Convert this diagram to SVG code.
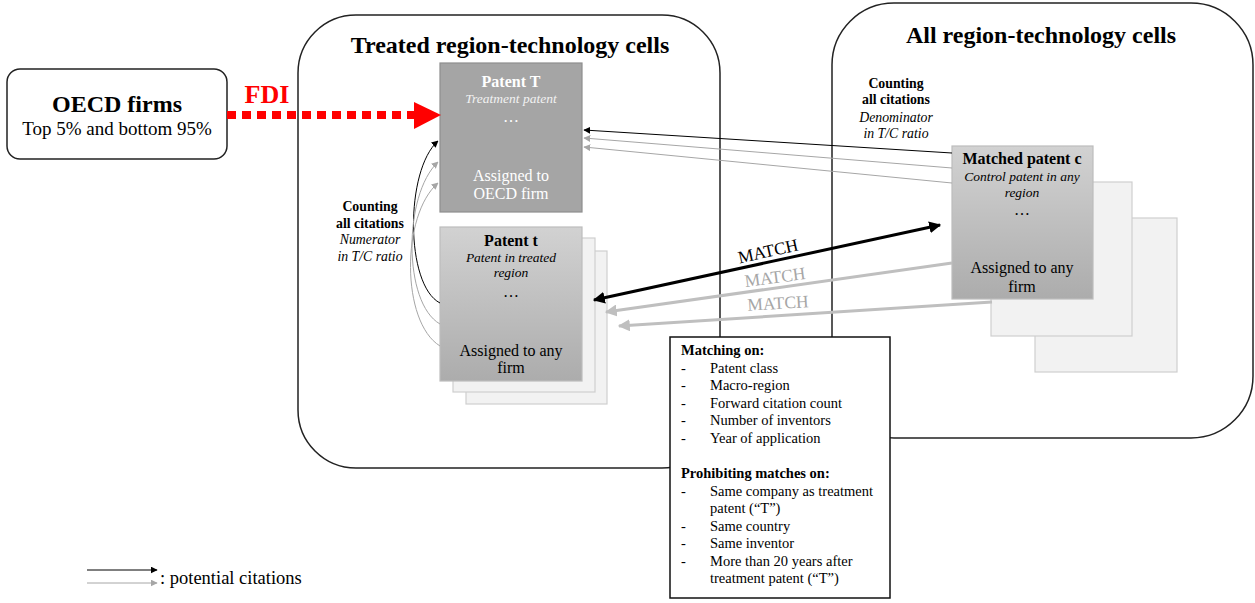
<svg xmlns="http://www.w3.org/2000/svg" width="1255" height="603" viewBox="0 0 1255 603" font-family="'Liberation Serif', 'Times New Roman', serif">
<defs>
<linearGradient id="gradGray" x1="0" y1="0" x2="0" y2="1">
<stop offset="0" stop-color="#d2d2d2"/>
<stop offset="1" stop-color="#acacac"/>
</linearGradient>
<marker id="ahBlack" viewBox="0 0 10 10" refX="9" refY="5" markerWidth="7" markerHeight="7" markerUnits="userSpaceOnUse" orient="auto"><path d="M0,0 L10,5 L0,10 z" fill="#000"/></marker>
<marker id="ahGray" viewBox="0 0 10 10" refX="9" refY="5" markerWidth="7" markerHeight="7" markerUnits="userSpaceOnUse" orient="auto"><path d="M0,0 L10,5 L0,10 z" fill="#a6a6a6"/></marker>
<marker id="ahMatchB" viewBox="0 0 10 10" refX="9" refY="5" markerWidth="4" markerHeight="4" orient="auto-start-reverse"><path d="M0,0 L10,5 L0,10 z" fill="#000"/></marker>
<marker id="ahMatchG" viewBox="0 0 10 10" refX="9" refY="5" markerWidth="4" markerHeight="4" orient="auto"><path d="M0,0 L10,5 L0,10 z" fill="#bfbfbf"/></marker>
</defs>
<style>
svg text { font-family: 'Liberation Serif', 'Times New Roman', serif; }
.container { fill: #fff; stroke: #222; stroke-width: 1.5; }
.title { font-size: 24px; font-weight: bold; text-anchor: middle; fill: #000; }
.bt { font-size: 16px; font-weight: bold; text-anchor: middle; }
.it { font-size: 13.5px; font-style: italic; text-anchor: middle; }
.nt { font-size: 16px; text-anchor: middle; }
.back { fill: #f2f2f2; stroke: #cfcfcf; stroke-width: 1.2; }
.lbl { font-size: 13.8px; text-anchor: middle; fill: #000; }
.mb { font-size: 14.5px; fill: #000; }
.cb { fill: none; stroke: #000; stroke-width: 1; }
.cg { fill: none; stroke: #a6a6a6; stroke-width: 1; }
.match { font-size: 17.5px; text-anchor: middle; }
</style>
<rect width="1255" height="603" fill="#fff"/>

<g id="treated-container">
<rect class="container" x="298" y="15" width="422" height="453" rx="58" ry="58"/>
<text class="title" x="510" y="53">Treated region-technology cells</text>
</g>
<g id="all-container">
<rect class="container" x="832" y="3" width="421" height="435" rx="62" ry="62"/>
<text class="title" x="1041" y="43">All region-technology cells</text>
</g>

<g id="oecd-firms">
<rect x="7" y="69" width="220" height="90" rx="13" ry="13" fill="#fff" stroke="#222" stroke-width="1.5"/>
<text x="117" y="112" font-size="24" font-weight="bold" text-anchor="middle">OECD firms</text>
<text x="117" y="135" font-size="19" text-anchor="middle">Top 5% and bottom 95%</text>
</g>

<g id="patent-T">
<rect x="440" y="63" width="142" height="149" fill="#a5a5a5" stroke="#8e8e8e" stroke-width="1.2"/>
<text class="bt" x="511" y="87" fill="#fff">Patent T</text>
<text class="it" x="511" y="103" fill="#f2f2f2">Treatment patent</text>
<text class="nt" x="511" y="122" fill="#fff">…</text>
<text class="nt" x="511" y="181" fill="#fff">Assigned to</text>
<text class="nt" x="511" y="199" fill="#fff">OECD firm</text>
</g>

<g id="patent-t">
<rect class="back" x="466" y="251" width="141" height="153"/>
<rect class="back" x="453" y="238" width="142" height="154"/>
<rect x="440" y="227" width="142" height="154" fill="url(#gradGray)" stroke="#bdbdbd" stroke-width="1.2"/>
<text class="bt" x="511" y="246">Patent t</text>
<text class="it" x="511" y="262">Patent in treated</text>
<text class="it" x="511" y="277">region</text>
<text class="nt" x="511" y="297">…</text>
<text class="nt" x="511" y="356">Assigned to any</text>
<text class="nt" x="511" y="373">firm</text>
</g>

<g id="matched-c">
<rect class="back" x="1035" y="218" width="142" height="154"/>
<rect class="back" x="991" y="182" width="141" height="154"/>
<rect x="952" y="146" width="141" height="153" fill="url(#gradGray)" stroke="#bdbdbd" stroke-width="1.2"/>
<text class="bt" x="1022" y="164">Matched patent c</text>
<text class="it" x="1022" y="181">Control patent in any</text>
<text class="it" x="1022" y="197">region</text>
<text class="nt" x="1022" y="215">…</text>
<text class="nt" x="1022" y="273">Assigned to any</text>
<text class="nt" x="1022" y="292">firm</text>
</g>

<g id="counting-left">
<text class="lbl" x="370" y="211" font-weight="bold">Counting</text>
<text class="lbl" x="370" y="228" font-weight="bold">all citations</text>
<text class="lbl" x="370" y="244" font-style="italic">Numerator</text>
<text class="lbl" x="370" y="261" font-style="italic">in T/C ratio</text>
</g>
<g id="counting-right">
<text class="lbl" x="896" y="88" font-weight="bold">Counting</text>
<text class="lbl" x="896" y="104" font-weight="bold">all citations</text>
<text class="lbl" x="896" y="122" font-style="italic">Denominator</text>
<text class="lbl" x="896" y="138" font-style="italic">in T/C ratio</text>
</g>

<g id="connectors">
<line x1="227" y1="115" x2="416" y2="115" stroke="#ff0000" stroke-width="8" stroke-dasharray="9,6"/>
<path d="M414,102 L441,115 L414,129 z" fill="#ff0000"/>
<text x="267" y="103" font-size="26" font-weight="bold" text-anchor="middle" fill="#ff0000">FDI</text>

<line class="cb" x1="952" y1="153" x2="584" y2="130" marker-end="url(#ahBlack)"/>
<line class="cg" x1="952" y1="168" x2="584" y2="138" marker-end="url(#ahGray)"/>
<line class="cg" x1="952" y1="183" x2="584" y2="147" marker-end="url(#ahGray)"/>

<path class="cb" d="M440,303 C405,285 405,170 438,141" marker-end="url(#ahBlack)"/>
<path class="cg" d="M440,324 C403,303 403,195 438,162" marker-end="url(#ahGray)"/>
<path class="cg" d="M440,346 C401,322 401,215 438,183" marker-end="url(#ahGray)"/>

<line x1="594" y1="300" x2="940" y2="225" stroke="#000" stroke-width="3" marker-start="url(#ahMatchB)" marker-end="url(#ahMatchB)"/>
<line x1="952" y1="263" x2="606" y2="312" stroke="#bfbfbf" stroke-width="3" marker-end="url(#ahMatchG)"/>
<line x1="992" y1="302" x2="619" y2="326" stroke="#bfbfbf" stroke-width="3" marker-end="url(#ahMatchG)"/>

<text class="match" x="768" y="257" fill="#000" transform="rotate(-12.5 768 251)">MATCH</text>
<text class="match" x="775" y="283" fill="#a6a6a6" transform="rotate(-7.5 775 277)">MATCH</text>
<text class="match" x="778" y="309" fill="#a6a6a6" transform="rotate(-3.5 778 303)">MATCH</text>
</g>

<g id="matching-box">
<rect x="670" y="337" width="220" height="261" fill="#fff" stroke="#111" stroke-width="1.5"/>
<text class="mb" x="681" y="355" font-weight="bold">Matching on:</text>
<text class="mb" x="681" y="373">-</text><text class="mb" x="710" y="373">Patent class</text>
<text class="mb" x="681" y="390">-</text><text class="mb" x="710" y="390">Macro-region</text>
<text class="mb" x="681" y="408">-</text><text class="mb" x="710" y="408">Forward citation count</text>
<text class="mb" x="681" y="425">-</text><text class="mb" x="710" y="425">Number of inventors</text>
<text class="mb" x="681" y="443">-</text><text class="mb" x="710" y="443">Year of application</text>
<text class="mb" x="681" y="478" font-weight="bold">Prohibiting matches on:</text>
<text class="mb" x="681" y="496">-</text><text class="mb" x="710" y="496">Same company as treatment</text>
<text class="mb" x="710" y="513">patent (“T”)</text>
<text class="mb" x="681" y="531">-</text><text class="mb" x="710" y="531">Same country</text>
<text class="mb" x="681" y="548">-</text><text class="mb" x="710" y="548">Same inventor</text>
<text class="mb" x="681" y="566">-</text><text class="mb" x="710" y="566">More than 20 years after</text>
<text class="mb" x="710" y="583">treatment patent (“T”)</text>
</g>

<g id="legend">
<line class="cb" x1="87" y1="570" x2="157" y2="570" marker-end="url(#ahBlack)"/>
<line class="cg" x1="87" y1="583" x2="157" y2="583" marker-end="url(#ahGray)"/>
<text x="160" y="584" font-size="18.5">: potential citations</text>
</g>
</svg>
